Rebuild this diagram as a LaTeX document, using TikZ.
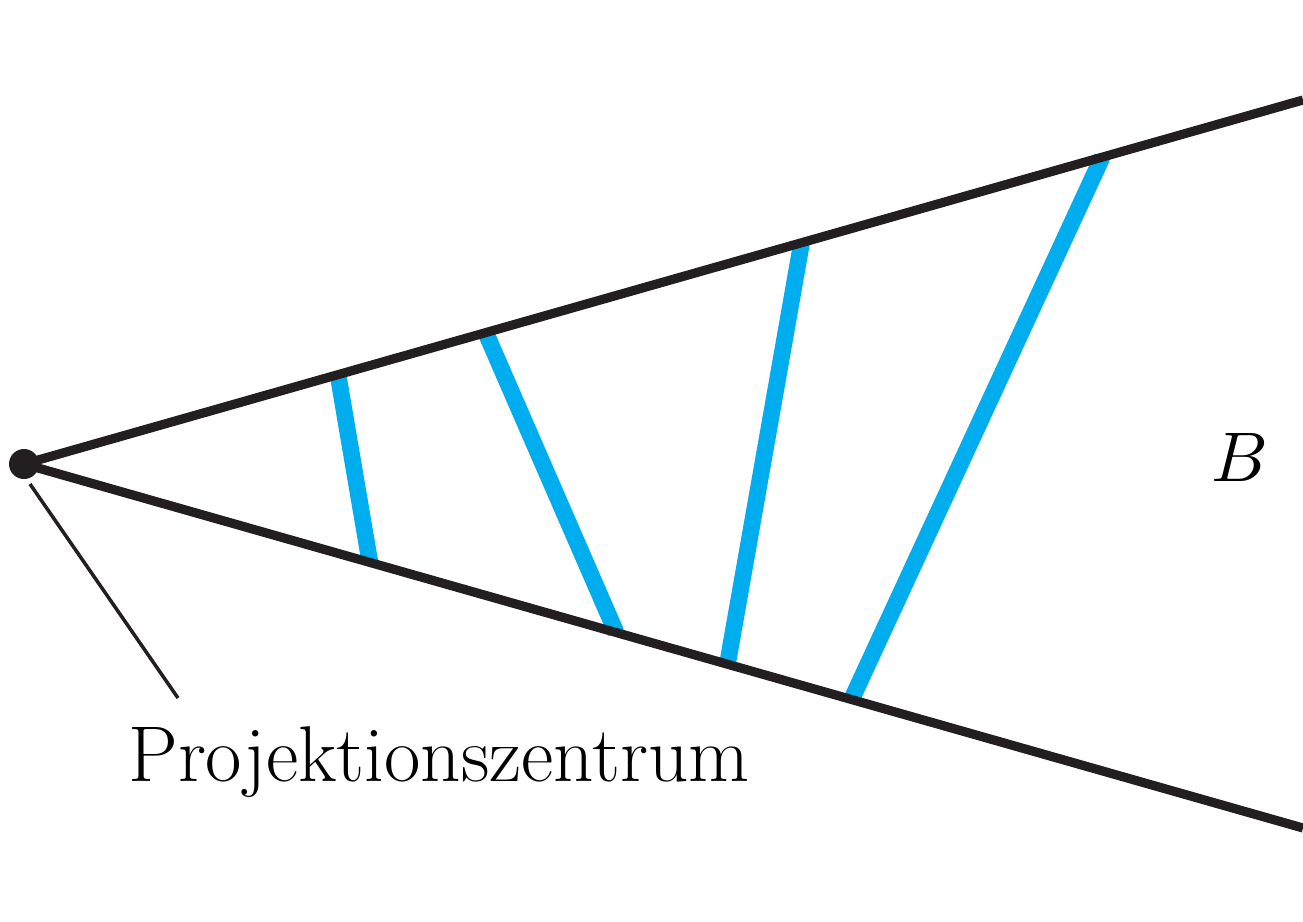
\documentclass[tikz,border=0pt]{standalone}
\usepackage{amsmath,amssymb}
\usepackage{graphicx}
\usepackage{tikz}
\usetikzlibrary{positioning,calc}
\definecolor{strahl}{RGB}{35,31,32}
\definecolor{bildblau}{RGB}{0,174,239}

\begin{document}
\begin{tikzpicture}[
  x=0.02cm,y=-0.02cm,
  font=\fontsize{45}{54}\selectfont,
  ray/.style={draw=strahl,line width=5.2pt},
  proj/.style={draw=bildblau,line width=9.5pt},
  lead/.style={draw=strahl,line width=2pt},
  zentrum/.style={circle,fill=strahl,inner sep=0pt,minimum size=0.6cm}
]
\useasboundingbox (0,0) rectangle (1303,921);
\node[zentrum] (o) at (24,464) {};
\coordinate (ob) at (1303,100);
\coordinate (un) at (1303,828);

% Projektionsstrahlen
\coordinate (a1) at ($(o.center)!0.2455!(ob)$);
\coordinate (b1) at ($(o.center)!0.2705!(un)$);
\coordinate (a2) at ($(o.center)!0.361!(ob)$);
\coordinate (b2) at ($(o.center)!0.463!(un)$);
\coordinate (a3) at ($(o.center)!0.608!(ob)$);
\coordinate (b3) at ($(o.center)!0.550!(un)$);
\coordinate (a4) at ($(o.center)!0.843!(ob)$);
\coordinate (b4) at ($(o.center)!0.647!(un)$);
\draw[proj] (a1)--(b1);
\draw[proj] (a2)--(b2);
\draw[proj] (a3)--(b3);
\draw[proj] (a4)--(b4);

\draw[ray] (o.center)--(ob);
\draw[ray] (o.center)--(un);

\node[anchor=base west,inner sep=0pt] (pz) at (128,781) {Projektionszentrum};
\coordinate (ls) at (30,484);
\coordinate (le) at (178,698);
\draw[lead] (ls)--(le);

\node[anchor=base,inner sep=0pt,font=\normalsize] (bild) at (1240,481) {\scalebox{4}{$B$}};
\end{tikzpicture}
\end{document}
